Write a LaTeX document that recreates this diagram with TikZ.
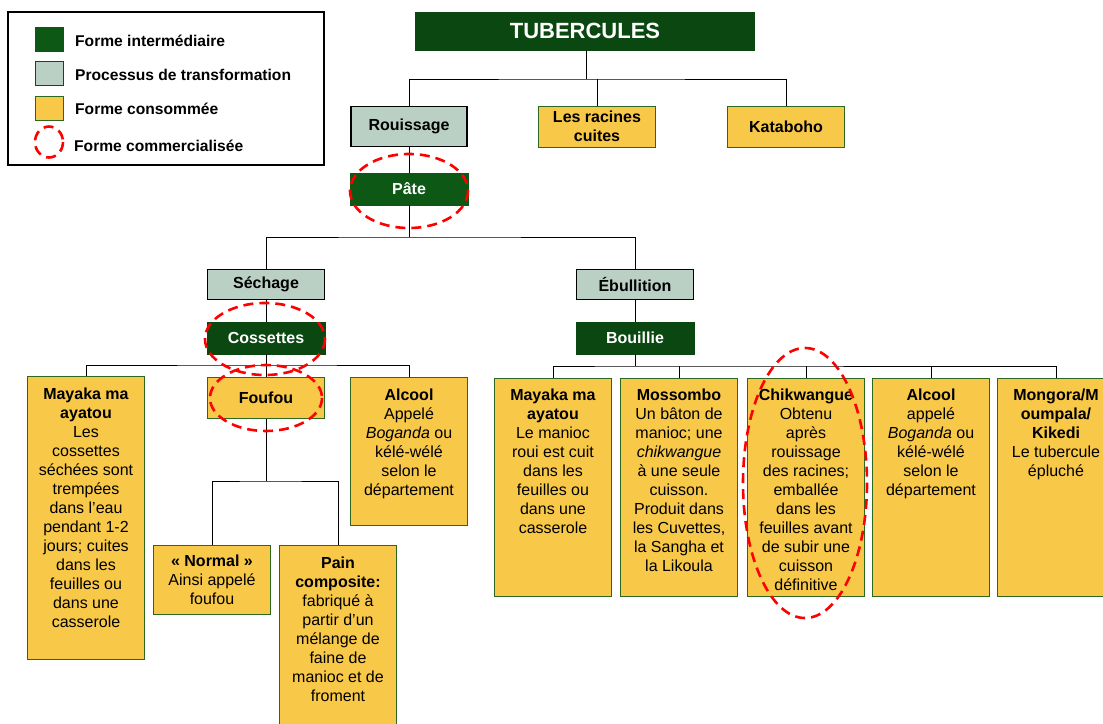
\documentclass[tikz,border=0pt]{standalone}
\usepackage{fontspec}
\setmainfont{Liberation Sans}
\usetikzlibrary{positioning}
\definecolor{vertfonce}{RGB}{11,72,17}
\definecolor{vertpate}{RGB}{14,88,22}
\definecolor{grisvert}{RGB}{186,208,197}
\definecolor{jaune}{RGB}{248,200,72}
\definecolor{bordvert}{RGB}{44,104,32}
\begin{document}
\begin{tikzpicture}[x=1pt, y=-1pt,
	inter/.style={fill=vertfonce, draw=vertfonce, text=white, font=\fontsize{16}{19}\selectfont\bfseries, minimum width=118pt, minimum height=32pt, inner sep=0pt},
	proc/.style={fill=grisvert, draw=black, line width=1.3pt, font=\fontsize{16}{19}\selectfont\bfseries, minimum width=116pt, minimum height=39pt, inner sep=0pt},
	conso/.style={fill=jaune, draw=bordvert, line width=1pt, minimum width=117pt, inner sep=0pt},
	txt/.style={anchor=north, align=center, font=\fontsize{16}{19}\selectfont, inner sep=0pt},
	legtxt/.style={anchor=west, font=\fontsize{15.6}{18}\selectfont\bfseries, inner sep=0pt},
	commerce/.style={draw=red, line width=2.6pt, dash pattern=on 10pt off 6pt},
	lien/.style={line width=1pt}]
		\useasboundingbox (0,0) rectangle (1103,723);
		
		%legende
		\draw[line width=1.3pt] (8,12) rectangle (324,165);
		\node[fill=vertpate, draw=vertpate, minimum width=28pt, minimum height=24pt, inner sep=0pt] (leg1) at (49,39.5){};
		\node[fill=grisvert, draw=black!80, line width=1pt, minimum width=28pt, minimum height=24pt, inner sep=0pt] (leg2) at (49,73.5){};
		\node[fill=jaune, draw=bordvert, line width=1pt, minimum width=28pt, minimum height=24pt, inner sep=0pt] (leg3) at (49,108){};
		\draw[commerce] (49,142) ellipse [x radius=14, y radius=15.5];
		\node[legtxt] (lt1) at (75,41){Forme intermédiaire};
		\node[legtxt] (lt2) at (75,74.5){Processus de transformation};
		\node[legtxt] (lt3) at (75,109){Forme consommée};
		\node[legtxt] (lt4) at (74,145.5){Forme commercialisée};
		
		%premier niveau
		\node[inter, minimum width=339pt, minimum height=38pt, font=\fontsize{22}{26}\selectfont\bfseries] (tub) at (585,31){TUBERCULES};
		\node[proc, minimum height=40pt] (rou) at (409,126.5){Rouissage};
		\node[conso, minimum height=41pt, txt, anchor=center] (rac) at (597,126.5){\textbf{Les racines}\\\textbf{cuites}};
		\node[conso, minimum height=41pt, font=\fontsize{16}{19}\selectfont\bfseries] (kat) at (786,126.5){Kataboho};
		\coordinate (bus1) at (586,79);
		\draw[lien] (tub.south -| bus1) -- (bus1);
		\draw[lien] (rou.north) |- (bus1) -| (kat.north);
		\draw[lien] (rac.north) -- (rac.north |- bus1);
		
		%pate
		\node[inter, fill=vertpate, draw=vertpate] (pate) at (409,189){Pâte};
		\draw[lien] (rou) -- (pate);
		\coordinate (bus2) at (409,237);
		\draw[lien] (pate) -- (bus2);
		\node[proc, minimum width=117pt, minimum height=30pt] (sech) at (266,284.5){Séchage};
		\node[proc, minimum width=117pt, minimum height=30pt] (ebul) at (635,284.5){Ébullition};
		\draw[lien] (sech.north) |- (bus2) -| (ebul.north);
		\node[inter] (coss) at (266,338){Cossettes};
		\node[inter] (bouil) at (635,338){Bouillie};
		\draw[lien] (sech) -- (coss);
		\draw[lien] (ebul) -- (bouil);
		
		%branche sechage
		\node[conso, anchor=north, minimum height=283pt] (mayA) at (86,376){};
		\node[conso, minimum height=41pt, font=\fontsize{16}{19}\selectfont\bfseries] (fouf) at (266,397.5){Foufou};
		\node[conso, anchor=north, minimum height=148pt] (alcA) at (409,377){};
		\coordinate (bus3) at (266,365);
		\draw[lien] (coss) -- (bus3);
		\draw[lien] (mayA.north) |- (bus3) -| (alcA.north);
		\draw[lien] (bus3) -- (fouf);
		\node[conso, anchor=north, minimum height=69pt] (norm) at (212,545){};
		\node[conso, anchor=north, minimum height=200pt] (pain) at (338,545){};
		\coordinate (bus4) at (266,481);
		\draw[lien] (fouf) -- (bus4);
		\draw[lien] (norm.north) |- (bus4) -| (pain.north);
		\node[txt] at ([yshift=-12pt]mayA.north){\textbf{Mayaka ma}\\\textbf{ayatou}\\Les\\cossettes\\séchées sont\\trempées\\dans l’eau\\pendant 1-2\\jours; cuites\\dans les\\feuilles ou\\dans une\\casserole};
		\node[txt] at ([yshift=-12pt]alcA.north){\textbf{Alcool}\\Appelé\\\textit{Boganda} ou\\kélé-wélé\\selon le\\département};
		\node[txt] at ([yshift=-10pt]norm.north){\textbf{« Normal »}\\Ainsi appelé\\foufou};
		\node[txt] at ([yshift=-12pt]pain.north){\textbf{Pain}\\\textbf{composite:}\\fabriqué à\\partir d’un\\mélange de\\faine de\\manioc et de\\froment};
		
		%branche ebullition
		\coordinate (bus5) at (635,366);
		\draw[lien] (bouil) -- (bus5);
		\node[conso, anchor=north, minimum height=218pt] (mayB) at (553,378){};
		\node[conso, anchor=north, minimum height=218pt] (moss) at (679,378){};
		\node[conso, anchor=north, minimum height=218pt] (chik) at (806,378){};
		\node[conso, anchor=north, minimum height=218pt] (alcB) at (931,378){};
		\node[conso, anchor=north, minimum height=218pt] (mong) at (1056,378){};
		\draw[lien] (mayB.north) |- (bus5) -| (mong.north);
		\foreach \n in {moss, chik, alcB}{
			\draw[lien] (\n.north) -- (\n.north |- bus5);
		}
		\node[txt] at ([yshift=-11pt]mayB.north){\textbf{Mayaka ma}\\\textbf{ayatou}\\Le manioc\\roui est cuit\\dans les\\feuilles ou\\dans une\\casserole};
		\node[txt] at ([yshift=-11pt]moss.north){\textbf{Mossombo}\\Un bâton de\\manioc; une\\\textit{chikwangue}\\à une seule\\cuisson.\\Produit dans\\les Cuvettes,\\la Sangha et\\la Likoula};
		\node[txt] at ([yshift=-11pt]chik.north){\textbf{Chikwangue}\\Obtenu\\après\\rouissage\\des racines;\\emballée\\dans les\\feuilles avant\\de subir une\\cuisson\\définitive};
		\node[txt] at ([yshift=-11pt]alcB.north){\textbf{Alcool}\\appelé\\\textit{Boganda} ou\\kélé-wélé\\selon le\\département};
		\node[txt] at ([yshift=-11pt]mong.north){\textbf{Mongora/M}\\\textbf{oumpala/}\\\textbf{Kikedi}\\Le tubercule\\épluché};
		
		%formes commercialisees
		\draw[commerce] (409,191) ellipse [x radius=59, y radius=37];
		\draw[commerce] (265,339) ellipse [x radius=60, y radius=36];
		\draw[commerce] (266,398) ellipse [x radius=56, y radius=33];
		\draw[commerce] (805,483) ellipse [x radius=62, y radius=135];
\end{tikzpicture}
\end{document}
